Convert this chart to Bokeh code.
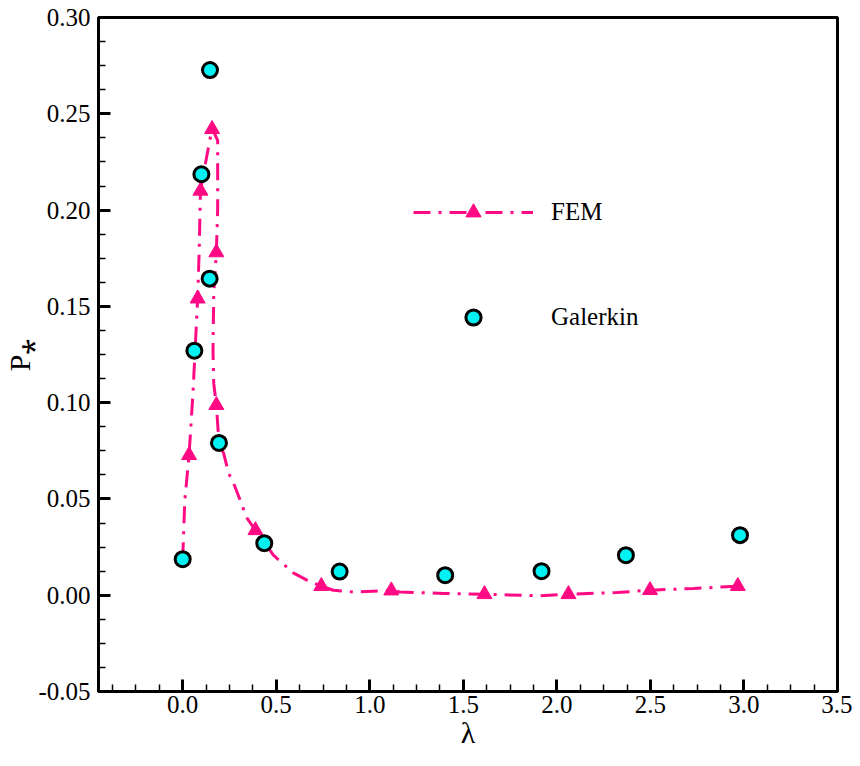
import math
from bokeh.plotting import figure
from bokeh.models import (Range1d, FixedTicker, PrintfTickFormatter, Legend,
                          LegendItem, Title)
from bokeh.embed import file_html
from bokeh.resources import INLINE

# ---- data ----
fem_x = [0.034, 0.080, 0.095, 0.157, 0.180, 0.180, 0.389, 0.741, 1.115,
         1.613, 2.062, 2.498, 2.967]
fem_y = [0.0727, 0.154, 0.210, 0.242, 0.178, 0.0987, 0.0337, 0.0047, 0.0024,
         0.0005, 0.0005, 0.0026, 0.0047]

# FEM curve (dash-dot line) read along its path
fem_line_x = [0.0, 0.011, 0.034, 0.055, 0.080, 0.088, 0.095, 0.134, 0.157,
              0.187, 0.187, 0.187, 0.180, 0.166, 0.162, 0.166, 0.180, 0.194,
              0.219, 0.246, 0.272, 0.344, 0.389, 0.485, 0.591, 0.664, 0.741,
              0.805, 0.913, 1.115, 1.163, 1.394, 1.613, 1.911, 2.062, 2.320,
              2.498, 2.730, 2.967]
fem_line_y = [0.0187, 0.049, 0.0727, 0.105, 0.154, 0.178, 0.2103, 0.2307,
              0.2423, 0.2362, 0.219, 0.200, 0.1783, 0.1567, 0.127, 0.110,
              0.0987, 0.0791, 0.0736, 0.0632, 0.0582, 0.040, 0.0337, 0.0208,
              0.0116, 0.0078, 0.0047, 0.0026, 0.0017, 0.0024, 0.0017, 0.0009,
              0.0005, -0.0003, 0.0005, 0.0014, 0.0026, 0.0035, 0.0047]

gal_x = [0.0, 0.0625, 0.100, 0.146, 0.144, 0.194, 0.436, 0.839, 1.403,
         1.918, 2.369, 2.979]
gal_y = [0.0187, 0.127, 0.2186, 0.2727, 0.1644, 0.0791, 0.027, 0.0123,
         0.0104, 0.0125, 0.0208, 0.0312]

x_major = [0.0, 0.5, 1.0, 1.5, 2.0, 2.5, 3.0, 3.5]
x_minor = [-0.375, -0.25, -0.125, 0.125, 0.25, 0.375, 0.625, 0.75, 0.875,
           1.125, 1.25, 1.375, 1.625, 1.75, 1.875, 2.125, 2.25, 2.375,
           2.625, 2.75, 2.875, 3.125, 3.25, 3.375]
y_major = [-0.05, 0.0, 0.05, 0.10, 0.15, 0.20, 0.25, 0.30]
y_minor = [-0.0375, -0.025, -0.0125, 0.0125, 0.025, 0.0375, 0.0625, 0.075,
           0.0875, 0.1125, 0.125, 0.1375, 0.1625, 0.175, 0.1875, 0.2125,
           0.225, 0.2375, 0.2625, 0.275, 0.2875]

PINK = "#FF0A84"
CYAN = "#00F2F2"
FONT = "Liberation Serif"

p = figure(width=852, height=762, output_backend="svg", toolbar_location=None,
           x_range=Range1d(-0.45, 3.5), y_range=Range1d(-0.05, 0.30),
           min_border_left=98, min_border_right=15, min_border_top=17,
           min_border_bottom=71)
p.xgrid.visible = False
p.ygrid.visible = False
p.outline_line_color = "black"
p.outline_line_width = 3
p.background_fill_color = "white"
p.border_fill_color = "white"

p.xaxis.ticker = FixedTicker(ticks=x_major, minor_ticks=x_minor)
p.yaxis.ticker = FixedTicker(ticks=y_major, minor_ticks=y_minor)
p.xaxis.formatter = PrintfTickFormatter(format="%.1f")
p.yaxis.formatter = PrintfTickFormatter(format="%.2f")
p.axis.axis_line_width = 3
p.axis.axis_line_color = "black"
p.axis.major_tick_in = 12
p.axis.major_tick_out = 0
p.axis.minor_tick_in = 7
p.axis.minor_tick_out = 0
p.axis.major_tick_line_width = 3
p.axis.minor_tick_line_width = 1.5
p.axis.major_label_text_font = "Liberation Serif, DejaVu Serif"
p.axis.major_label_text_font_size = "25px"
p.axis.major_label_text_color = "black"
p.xaxis.major_label_standoff = 4
p.yaxis.major_label_standoff = 8

p.xaxis.axis_label = "λ"
p.xaxis.axis_label_text_font = "Liberation Serif, DejaVu Serif"
p.xaxis.axis_label_text_font_size = "30px"
p.xaxis.axis_label_text_font_style = "normal"
p.xaxis.axis_label_text_color = "black"
p.xaxis.axis_label_standoff = 0

ytitle = Title(text="P⁎", align="center", text_font=FONT,
               text_font_size="30px", text_font_style="normal",
               text_color="black", standoff=0, offset=0)
p.add_layout(ytitle, "left")

fem_line = p.line(fem_line_x, fem_line_y, line_color=PINK, line_width=3,
                  line_dash="17 8 3 8")
fem_pts = p.scatter(fem_x, fem_y, marker="triangle", size=15,
                    fill_color=PINK, line_color=PINK, line_width=1)
gal_pts = p.scatter(gal_x, gal_y, marker="circle", size=15,
                    fill_color=CYAN, line_color="black", line_width=3)

legend = Legend(items=[LegendItem(label="FEM", renderers=[fem_line, fem_pts]),
                       LegendItem(label="Galerkin", renderers=[gal_pts])],
                location=(315, 355), glyph_width=120, glyph_height=38,
                spacing=67, label_standoff=18, padding=0, margin=0,
                border_line_color=None, background_fill_alpha=0,
                label_text_font=FONT, label_text_font_size="25px",
                label_text_color="black")
p.add_layout(legend, "center")

open("out.html", "w").write(file_html(p, INLINE))
